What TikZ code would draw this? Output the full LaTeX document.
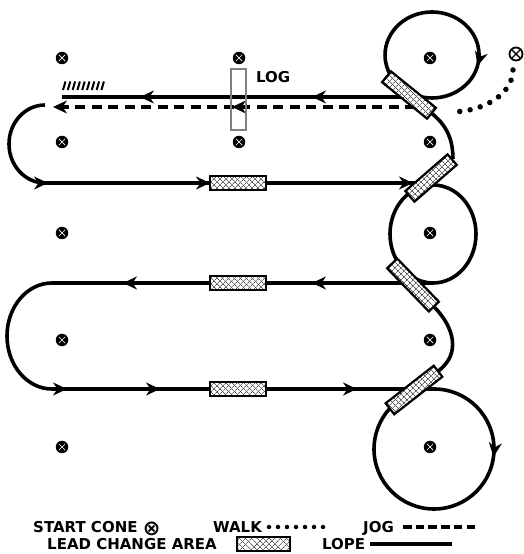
\documentclass[tikz,border=0pt]{standalone}
\usepackage{fontspec}
\setmainfont{DejaVu Sans}
\usetikzlibrary{arrows.meta,decorations.markings,patterns.meta,backgrounds}

\begin{document}
\begin{tikzpicture}[x=1pt, y=1pt, font=\bfseries\fontsize{15}{18}\selectfont,
	bigtip/.tip={Stealth[length=14pt, width=13pt]},
	lope/.style={line width=3.6pt},
	jog/.style={line width=3.6pt, dash pattern=on 10pt off 6.5pt},
	walk/.style={line width=5.5pt, line cap=round, dash pattern=on 0pt off 10.5pt},
	arrowat/.style={postaction={decorate, decoration={markings, mark=at position #1 with {\arrow{bigtip}}}}},
	cone/.style={circle, fill=black, inner sep=0pt, minimum size=12.5pt,
		path picture={\draw[white, line width=0.7pt] (path picture bounding box.center) +(-3.2,-3.2) -- +(3.2,3.2) +(-3.2,3.2) -- +(3.2,-3.2);}},
	startcone/.style={circle, draw, fill=white, line width=1.8pt, inner sep=0pt, minimum size=13pt,
		path picture={\draw[line width=1.4pt] (path picture bounding box.center) +(-4,-4) -- +(4,4) +(-4,4) -- +(4,-4);}},
	lead/.style={draw, line width=2.2pt, minimum width=#1, minimum height=14pt, inner sep=0pt,
		preaction={fill=white},
		preaction={pattern={Lines[angle=45, distance=4pt, line width=0.8pt]}, pattern color=black!65},
		preaction={pattern={Lines[angle=-45, distance=4pt, line width=0.8pt]}, pattern color=black!65}},
	lead/.default=56pt,
	key/.style={anchor=base west, inner sep=0pt}]
	\useasboundingbox (0,0) rectangle (524,554);

	% cones
	\foreach \y [count=\r] in {496,412,321,214,107} {
		\node[cone] (c\r1) at (62,\y) {};
		\node[cone] (c\r3) at (430,\y) {};
	}
	\node[cone] (c12) at (239,496) {};
	\node[cone] (c22) at (239,412) {};
	\node[startcone] (start) at (516,500) {};

	% lead change areas
	\node[lead=58pt, rotate=-39] (lc1) at (409,459) {};
	\node[lead=56pt, rotate=41] (lc2) at (431,376) {};
	\node[lead=60pt, rotate=-46] (lc3) at (413,269) {};
	\node[lead=61pt, rotate=38] (lc4) at (414,164) {};
	\foreach \y [count=\i] in {371,271,165}
		\node[lead] (lh\i) at (238,\y) {};

	% log
	\node[draw=gray, line width=1.8pt, minimum width=15pt, minimum height=61pt, inner sep=0pt] (log) at (238.5,454.5) {};
	\node[key] (logtext) at (256,471) {LOG};
	\foreach \i in {0,...,8}
		\draw[line width=2pt] (63+\i*4.8,464) -- ++(2.5,8.5);

	\begin{scope}[on background layer]
		\draw[walk] ([shift={(-3,-16)}]start.center) arc[start angle=0, end angle=-90, x radius=63, y radius=42];
		\draw[lope, arrowat=0.66] (398.8,468.6) arc[start angle=225, end angle=-135, x radius=47, y radius=43];
		\draw[lope, arrowat=93pt, arrowat=265pt] (405,457) -- (62,457);
		\draw[jog, -bigtip, arrowat=183pt] (415,447) -- (53,447);
		\draw[lope] (45,449) arc[start angle=90, end angle=270, x radius=36, y radius=39];
		\draw[lope, arrowat=3pt, arrowat=165pt, arrowat=368pt] (45,371) -- (431,371);
		\draw[lope] (lc1.east) .. controls +(-39:22) and +(90:15) .. (lc2.east);
		\draw[lope] (433,320) ellipse[x radius=43, y radius=49];
		\draw[lope, arrowat=121pt, arrowat=310pt] (433,271) -- (52,271) arc[start angle=90, end angle=270, x radius=45, y radius=53];
		\draw[lope] (lc3.east) .. controls +(-46:28) and +(38:28) .. (lc4.east);
		\draw[lope, arrowat=15pt, arrowat=108pt, arrowat=305pt, arrowat=484pt] (52,165) -- (434,165) arc[start angle=90, end angle=-222, radius=60];
	\end{scope}

	% legend
	\node[key] (startkey) at (33,21.5) {START CONE \raisebox{-2.5pt}{\fontsize{21}{18}\selectfont ⊗}};
	\node[key] (walkkey) at (213,21.5) {WALK};
	\draw[line width=4.5pt, line cap=round, dash pattern=on 0pt off 9pt] (269,27) -- (323,27);
	\node[key] (jogkey) at (363,21.5) {JOG};
	\draw[line width=3.5pt, dash pattern=on 8.5pt off 4.2pt] (403,27) -- (475,27);
	\node[key] (leadkey) at (47,4.5) {LEAD CHANGE AREA};
	\node[lead=53pt] (leadbox) at (263.5,10) {};
	\node[key] (lopekey) at (322,4.5) {LOPE};
	\draw[line width=4.5pt] (370,10) -- (452,10);
\end{tikzpicture}
\end{document}
